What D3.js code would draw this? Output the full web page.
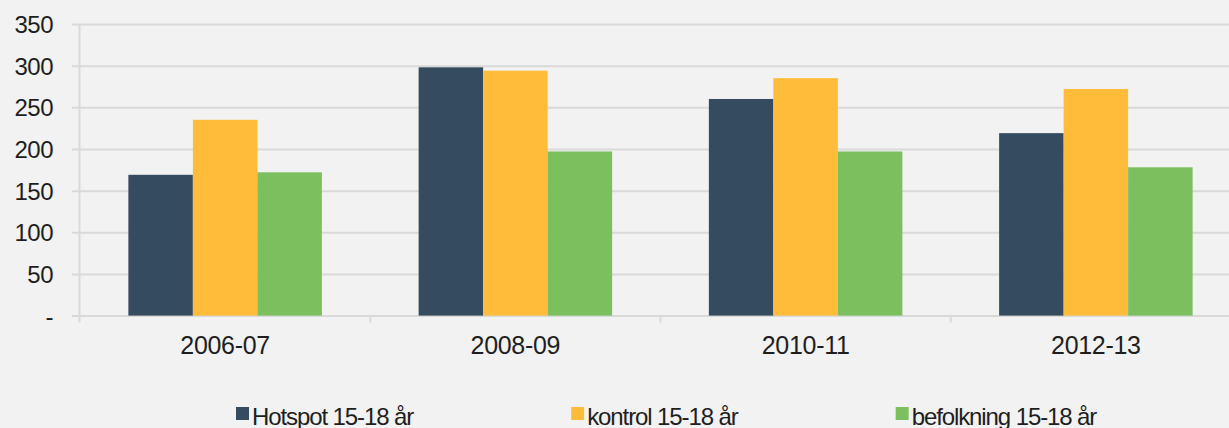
<!DOCTYPE html>
<html>
<head>
<meta charset="utf-8">
<script src="https://cdn.jsdelivr.net/npm/d3@7"></script>
<style>
  html, body { margin: 0; padding: 0; background: #f2f2f2; }
  #wrapper { width: 1229px; height: 428px; }
  text { font-family: 'Liberation Sans', Arial, sans-serif; fill: #1e1e1e; }
</style>
</head>
<body>
<div id="wrapper"></div>
<script>
// data
const periods = ['2006-07', '2008-09', '2010-11', '2012-13']
const seriesNames = ['Hotspot 15-18 år', 'kontrol 15-18 år', 'befolkning 15-18 år']
const hotspot = [169, 298, 260, 219]
const kontrol = [235, 294, 285, 272]
const befolkning = [172, 197, 197, 178]
const yTicks = [0, 50, 100, 150, 200, 250, 300, 350]

const colors = ['#354b5f', '#ffbc3b', '#7bbf5f']
const gridColor = '#d9d9d9'

const dimensions = {
  width: 1229,
  height: 428,
  margin: { left: 80, top: 24 },
  plotRight: 1241, // chart is clipped on the right in the original
  baseline: 315.6,
}

const rows = periods.map((p, i) => ({
  period: p,
  values: [hotspot[i], kontrol[i], befolkning[i]],
}))

const svg = d3
  .select('#wrapper')
  .append('svg')
  .attr('width', dimensions.width)
  .attr('height', dimensions.height)

svg
  .append('rect')
  .attr('width', dimensions.width)
  .attr('height', dimensions.height)
  .attr('fill', '#f2f2f2')

// Scales
const xScale = d3
  .scaleBand()
  .domain(periods)
  .range([dimensions.margin.left, dimensions.plotRight])
  .padding(0)

const bw = xScale.bandwidth()
const xInner = d3
  .scaleBand()
  .domain(d3.range(seriesNames.length))
  .range([bw / 6, (bw * 5) / 6])
  .padding(0)

const yScale = d3
  .scaleLinear()
  .domain([0, 350])
  .range([dimensions.baseline, dimensions.margin.top])

// y axis with gridlines
const gridStart = 72
const yAxisGenerator = d3
  .axisLeft(yScale)
  .tickValues(yTicks)
  .tickSize(-(dimensions.width - gridStart))
  .tickPadding(gridStart - 53)
  .tickFormat((d) => (d === 0 ? '-' : d))

const yAxis = svg
  .append('g')
  .attr('class', 'y-axis')
  .attr('transform', `translate(${gridStart}, 0)`)
  .call(yAxisGenerator)
yAxis.select('.domain').remove()
yAxis.selectAll('line').attr('stroke', gridColor).attr('stroke-width', 2)
yAxis
  .selectAll('text')
  .attr('font-size', 24)
  .style('letter-spacing', '-0.5px')
  .attr('dy', '0.36em')

// vertical axis line
svg
  .append('line')
  .attr('x1', xScale.range()[0] - 0.5)
  .attr('x2', xScale.range()[0] - 0.5)
  .attr('y1', yScale(350))
  .attr('y2', dimensions.baseline + 7)
  .attr('stroke', gridColor)
  .attr('stroke-width', 2)

// category boundary ticks
svg
  .append('g')
  .selectAll('line')
  .data(periods.slice(1))
  .enter()
  .append('line')
  .attr('x1', (d) => xScale(d))
  .attr('x2', (d) => xScale(d))
  .attr('y1', dimensions.baseline)
  .attr('y2', dimensions.baseline + 7)
  .attr('stroke', gridColor)
  .attr('stroke-width', 2)

// x axis labels
const xAxis = svg
  .append('g')
  .attr('class', 'x-axis')
  .attr('transform', `translate(0, ${dimensions.baseline})`)
  .call(d3.axisBottom(xScale).tickSize(0).tickPadding(21))
xAxis.select('.domain').remove()
xAxis.selectAll('text').attr('font-size', 25).style('letter-spacing', '-0.3px')

// bars
const groups = svg
  .append('g')
  .selectAll('g')
  .data(rows)
  .enter()
  .append('g')
  .attr('transform', (d) => `translate(${xScale(d.period)}, 0)`)

groups
  .selectAll('rect')
  .data((d) => d.values)
  .enter()
  .append('rect')
  .attr('x', (d, i) => xInner(i))
  .attr('width', xInner.bandwidth())
  .attr('y', (d) => yScale(d))
  .attr('height', (d) => yScale(0) - yScale(d))
  .attr('fill', (d, i) => colors[i])

// legend
const legend = svg.append('g').attr('class', 'legend')
let legendX = 236
const legendGap = 158
seriesNames.forEach((name, i) => {
  const item = legend.append('g').attr('transform', `translate(${legendX}, 0)`)
  item
    .append('rect')
    .attr('x', 0)
    .attr('y', 407)
    .attr('width', 13)
    .attr('height', 13)
    .attr('fill', colors[i])
  const label = item
    .append('text')
    .attr('x', 16)
    .attr('y', 425)
    .attr('font-size', 24)
    .style('letter-spacing', '-1.1px')
    .text(name)
  legendX += 16 + label.node().getComputedTextLength() + legendGap
})
</script>
</body>
</html>
